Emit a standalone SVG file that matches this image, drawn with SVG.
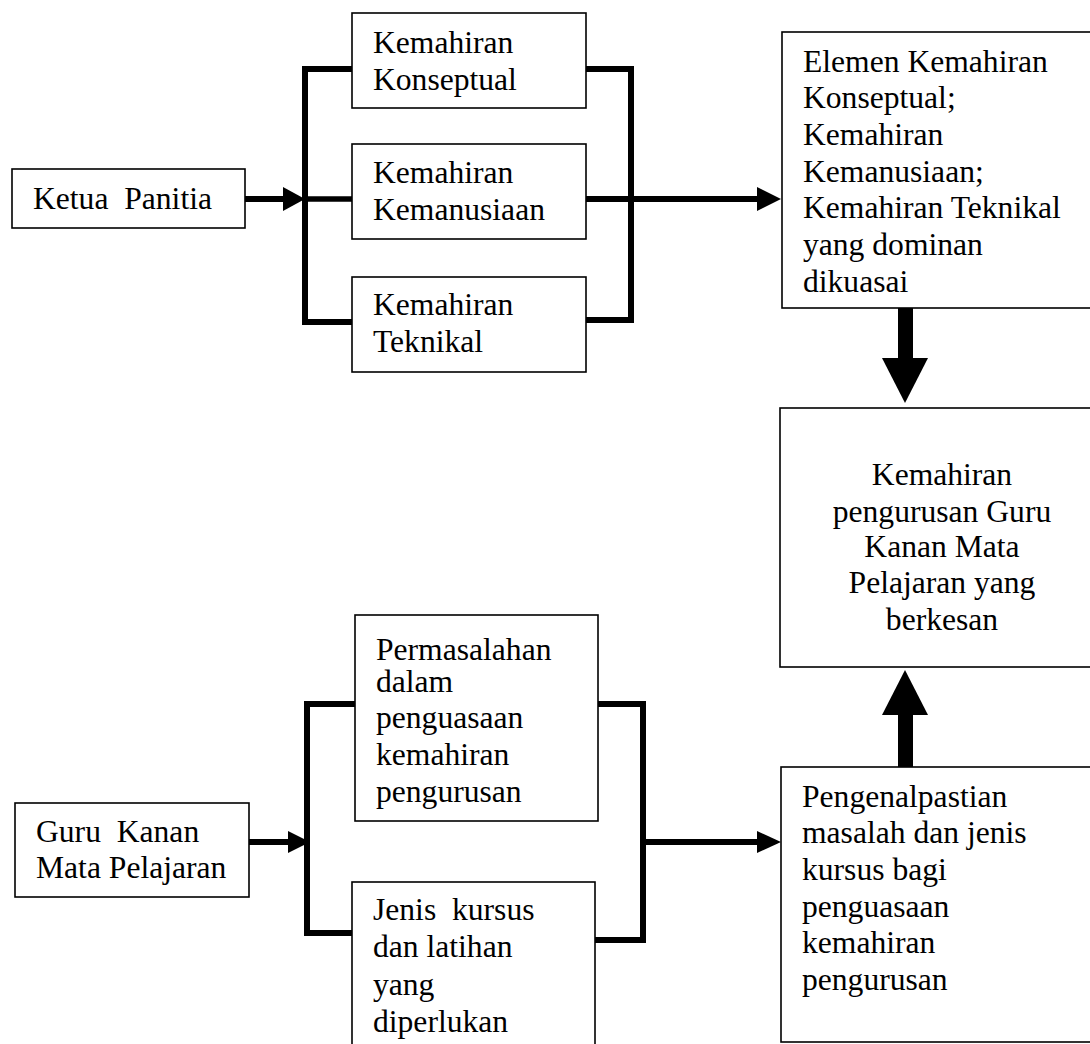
<svg xmlns="http://www.w3.org/2000/svg" width="1090" height="1044" viewBox="0 0 1090 1044">
<style>
.box{fill:#fff;stroke:#000;stroke-width:1.6}
.t{font-family:"Liberation Serif","Times New Roman",serif;font-size:31.6px;fill:#000;white-space:pre}
.c{text-anchor:middle}
.ln{fill:none;stroke:#000;stroke-width:6;stroke-linejoin:miter;stroke-linecap:butt}
.ah{fill:#000;stroke:none}
</style>
<rect width="1090" height="1044" fill="#fff"/>
<g id="connectors">
  <!-- top section -->
  <line class="ln" x1="245" y1="199" x2="286" y2="199"/>
  <polygon class="ah" points="283,187 305,199 283,211"/>
  <polyline class="ln" points="352,69 305,69 305,322 352,322"/>
  <line class="ln" x1="305" y1="199" x2="352" y2="199" style="stroke-width:5.5"/>
  <polyline class="ln" points="586,69 631,69 631,320 586,320"/>
  <line class="ln" x1="586" y1="199" x2="760" y2="199"/>
  <polygon class="ah" points="757,187 781,199 757,211"/>
  <!-- vertical thick arrows -->
  <rect class="ah" x="898" y="308" width="15" height="52"/>
  <polygon class="ah" points="882,358 928,358 905,403"/>
  <rect class="ah" x="898" y="713" width="15" height="54"/>
  <polygon class="ah" points="882,715 928,715 905,670"/>
  <!-- bottom section -->
  <line class="ln" x1="249" y1="842" x2="290" y2="842"/>
  <polygon class="ah" points="288,831 310,842 288,853"/>
  <polyline class="ln" points="355,704 307,704 307,933 352,933"/>
  <polyline class="ln" points="598,704 643,704 643,940 595,940"/>
  <line class="ln" x1="643" y1="842" x2="760" y2="842"/>
  <polygon class="ah" points="757,831 781,842 757,853"/>
</g>
<g id="ketua">
  <rect class="box" x="12" y="169" width="233" height="59"/>
  <text class="t" x="33" y="209">Ketua  Panitia</text>
</g>
<g id="konseptual">
  <rect class="box" x="352" y="13" width="234" height="95"/>
  <text class="t" x="373" y="53">Kemahiran</text>
  <text class="t" x="373" y="90">Konseptual</text>
</g>
<g id="kemanusiaan">
  <rect class="box" x="352" y="144" width="234" height="95"/>
  <text class="t" x="373" y="183">Kemahiran</text>
  <text class="t" x="373" y="220">Kemanusiaan</text>
</g>
<g id="teknikal">
  <rect class="box" x="352" y="277" width="234" height="95"/>
  <text class="t" x="373" y="315">Kemahiran</text>
  <text class="t" x="373" y="352">Teknikal</text>
</g>
<g id="elemen">
  <rect class="box" x="782" y="32" width="330" height="276"/>
  <text class="t" x="803" y="72">Elemen Kemahiran</text>
  <text class="t" x="803" y="108">Konseptual;</text>
  <text class="t" x="803" y="145">Kemahiran</text>
  <text class="t" x="803" y="182">Kemanusiaan;</text>
  <text class="t" x="803" y="218">Kemahiran Teknikal</text>
  <text class="t" x="803" y="255">yang dominan</text>
  <text class="t" x="803" y="292">dikuasai</text>
</g>
<g id="kemahiran-pengurusan">
  <rect class="box" x="780" y="408" width="324" height="259"/>
  <text class="t c" x="942" y="485">Kemahiran</text>
  <text class="t c" x="942" y="522">pengurusan Guru</text>
  <text class="t c" x="942" y="557">Kanan Mata</text>
  <text class="t c" x="942" y="593">Pelajaran yang</text>
  <text class="t c" x="942" y="630">berkesan</text>
</g>
<g id="guru">
  <rect class="box" x="15" y="803" width="234" height="94"/>
  <text class="t" x="36" y="842">Guru  Kanan</text>
  <text class="t" x="36" y="878">Mata Pelajaran</text>
</g>
<g id="permasalahan">
  <rect class="box" x="355" y="615" width="243" height="206"/>
  <text class="t" x="376" y="660">Permasalahan</text>
  <text class="t" x="376" y="692">dalam</text>
  <text class="t" x="376" y="728">penguasaan</text>
  <text class="t" x="376" y="765">kemahiran</text>
  <text class="t" x="376" y="802">pengurusan</text>
</g>
<g id="jenis-kursus">
  <rect class="box" x="352" y="882" width="243" height="170"/>
  <text class="t" x="373" y="920">Jenis  kursus</text>
  <text class="t" x="373" y="957">dan latihan</text>
  <text class="t" x="373" y="995">yang</text>
  <text class="t" x="373" y="1032">diperlukan</text>
</g>
<g id="pengenalpastian">
  <rect class="box" x="781" y="767" width="330" height="275"/>
  <text class="t" x="802" y="807">Pengenalpastian</text>
  <text class="t" x="802" y="843">masalah dan jenis</text>
  <text class="t" x="802" y="880">kursus bagi</text>
  <text class="t" x="802" y="917">penguasaan</text>
  <text class="t" x="802" y="953">kemahiran</text>
  <text class="t" x="802" y="990">pengurusan</text>
</g>
</svg>
